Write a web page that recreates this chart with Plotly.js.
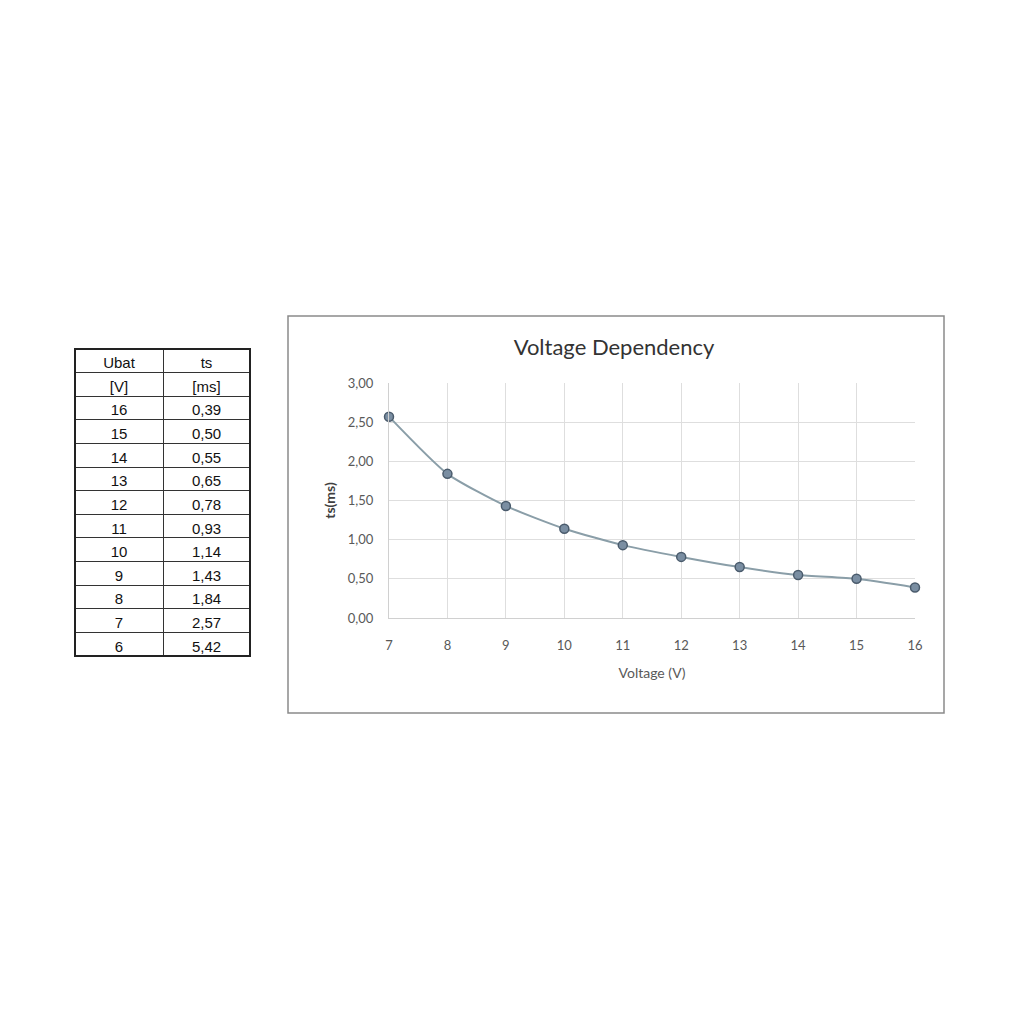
<!DOCTYPE html>
<html>
<head>
<meta charset="utf-8">
<script src="https://cdn.plot.ly/plotly-3.0.1.min.js"></script>
<style>html,body{margin:0;padding:0;background:#fff;}#chart{width:1024px;height:1024px;}</style>
</head>
<body>
<div id="chart"></div>
<script>
// Table data
var tableUbat = ["16","15","14","13","12","11","10","9","8","7","6"];
var tableTs = ["0,39","0,50","0,55","0,65","0,78","0,93","1,14","1,43","1,84","2,57","5,42"];
var tableHeader = ["Ubat","ts"];
var tableUnits = ["[V]","[ms]"];

// Chart data
var voltage = [7, 8, 9, 10, 11, 12, 13, 14, 15, 16];
var tsMs = [2.57, 1.84, 1.43, 1.14, 0.93, 0.78, 0.65, 0.55, 0.50, 0.39];
var yTickVals = [0, 0.5, 1, 1.5, 2, 2.5, 3];
var yTickText = ["0,00","0,50","1,00","1,50","2,00","2,50","3,00"];

var W = 1024, H = 1024;
function px(x){return x / W;}
function py(y){return 1 - y / H;}

var rowH = (656 - 349) / 13;

var tableTrace = {
  type: 'table',
  domain: {x: [px(75), px(250)], y: [py(657), py(349)]},
  columnwidth: [88, 87],
  header: {
    values: tableHeader,
    height: rowH,
    align: 'center',
    line: {color: '#333', width: 1},
    fill: {color: '#fff'},
    font: {family: 'Liberation Sans, Arial, sans-serif', size: 15, color: '#111'}
  },
  cells: {
    values: [[tableUnits[0]].concat(tableUbat), [tableUnits[1]].concat(tableTs)],
    height: rowH,
    align: 'center',
    line: {color: '#333', width: 1},
    fill: {color: '#fff'},
    font: {family: 'Liberation Sans, Arial, sans-serif', size: 15, color: '#111'}
  }
};

var lineTrace = {
  type: 'scatter',
  mode: 'lines+markers',
  x: voltage,
  y: tsMs,
  cliponaxis: false,
  line: {color: '#8a9ea8', width: 2, shape: 'spline', smoothing: 0.6},
  marker: {size: 9, color: '#7a8ea2', line: {color: '#4a5b6c', width: 1.5}},
  showlegend: false,
  hoverinfo: 'x+y'
};

var chartFont = 'Lato, Carlito, "Open Sans", sans-serif';

var layout = {
  width: W, height: H,
  margin: {l: 0, r: 0, t: 0, b: 0},
  paper_bgcolor: '#fff',
  plot_bgcolor: '#fff',
  showlegend: false,
  title: {
    text: 'Voltage Dependency',
    x: px(614), xanchor: 'center',
    y: py(347), yanchor: 'middle',
    font: {family: chartFont, size: 22, color: '#333333'}
  },
  xaxis: {
    domain: [px(389), px(915)],
    range: [7, 16],
    tickvals: voltage,
    ticks: 'outside', ticklen: 15, tickcolor: 'rgba(0,0,0,0)',
    showgrid: true, gridcolor: '#dedede', gridwidth: 1,
    zeroline: false,
    showline: true, linecolor: '#d0d0d0', linewidth: 1,
    tickfont: {family: chartFont, size: 13, color: '#595959'},
    title: {text: 'Voltage (V)', standoff: 16, font: {family: chartFont, size: 14, color: '#595959'}},
    fixedrange: true
  },
  yaxis: {
    domain: [py(618), py(383)],
    range: [0, 3],
    tickvals: yTickVals,
    ticktext: yTickText,
    ticks: 'outside', ticklen: 12, tickcolor: 'rgba(0,0,0,0)',
    showgrid: true, gridcolor: '#dedede', gridwidth: 1,
    zeroline: false,
    showline: true, linecolor: '#d0d0d0', linewidth: 1,
    tickfont: {family: chartFont, size: 13, color: '#595959'},
    title: {text: '<b>ts(ms)</b>', standoff: 8, font: {family: chartFont, size: 14, color: '#404040'}},
    fixedrange: true
  },
  shapes: [
    {type: 'rect', xref: 'paper', yref: 'paper', x0: px(288), x1: px(944), y0: py(713), y1: py(316),
     line: {color: '#8a8a8a', width: 1.5}, fillcolor: 'rgba(0,0,0,0)', layer: 'below'},
    {type: 'rect', xref: 'paper', yref: 'paper', x0: px(75), x1: px(250), y0: py(656), y1: py(349),
     line: {color: '#222', width: 2}, fillcolor: 'rgba(0,0,0,0)'}
  ]
};

Plotly.newPlot('chart', [tableTrace, lineTrace], layout, {displayModeBar: false, staticPlot: true});
</script>
</body>
</html>
